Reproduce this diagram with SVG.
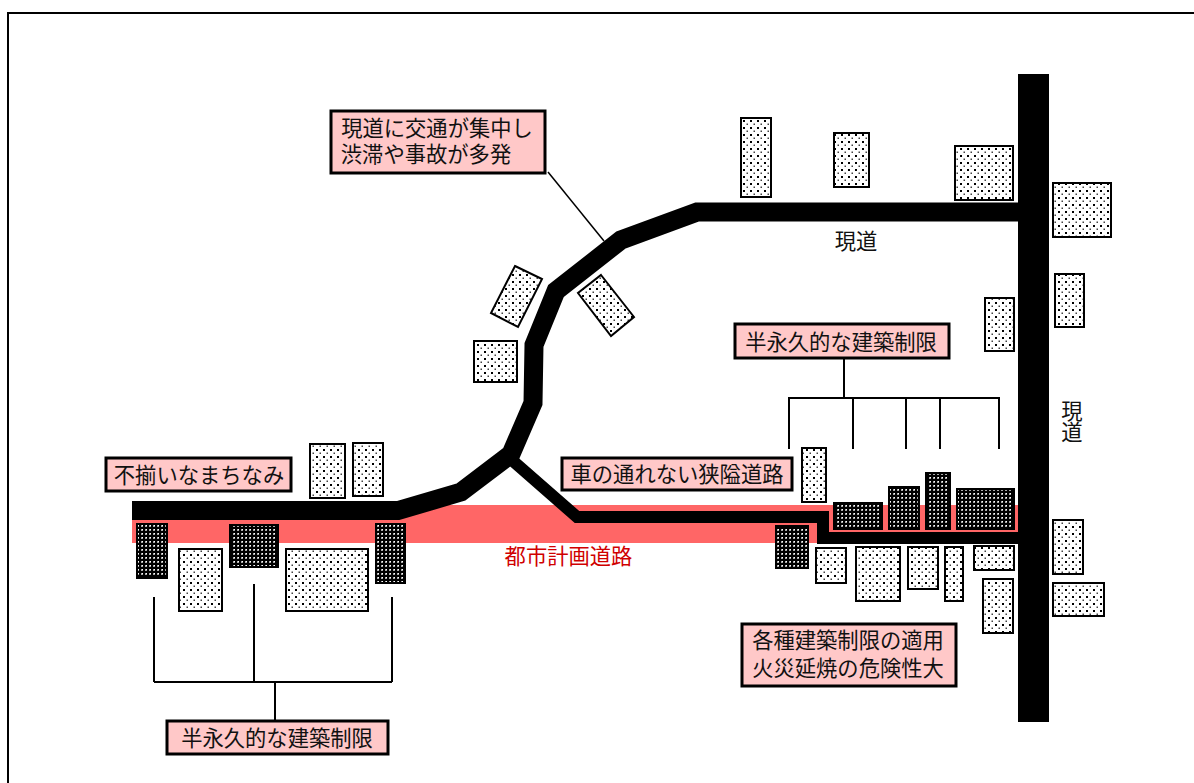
<svg xmlns="http://www.w3.org/2000/svg" width="1194" height="783" viewBox="0 0 1194 783">
<style>
text{font-family:"Noto Sans CJK JP","Noto Sans",sans-serif;font-size:21.3px;fill:#111;text-anchor:middle}
.l{fill:url(#lp);stroke:#000;stroke-width:2}
.d{fill:url(#dp);stroke:#000;stroke-width:2}
.b{fill:#ffc8c8;stroke:#000;stroke-width:3}
.r{fill:none;stroke:#000;stroke-linejoin:miter}
.t{fill:none;stroke:#000;stroke-width:2}
</style>
<defs>
<pattern id="lp" width="7" height="7" patternUnits="userSpaceOnUse"><rect width="7" height="7" fill="#fff"/><rect x="1" y="1" width="2" height="2" fill="#000"/><rect x="4.500" y="4.500" width="1.500" height="1.500" fill="#444"/></pattern>
<pattern id="dp" width="4" height="4" patternUnits="userSpaceOnUse"><rect width="4" height="4" fill="#000"/><rect x="1" y="1" width="2" height="2" fill="#aaa"/><rect x="2" y="1" width="1" height="1" fill="#fff"/></pattern>
</defs>
<rect width="1194" height="783" fill="#fff"/>
<path d="M8 783V13H1194" fill="none" stroke="#000" stroke-width="2"/>
<g id="planned-road"><path d="M132 505H1018V532H829V544H818V543H132Z" fill="#ff6666"/><text x="568.500" y="564" style="fill:#d00000">都市計画道路</text></g>
<g id="connectors">
<path class="r" stroke-width="19" d="M132 510.500H398L461 492L511 454L533 403L534 345L556 291L621 240L697 212H1018"/>
<path class="r" stroke-width="12" d="M513 461L577 517H823V538H1018"/>
<rect x="1018" y="74" width="31" height="648" fill="#000"/>
<path class="t" style="stroke-width:1.500" d="M548 172L604 241"/>
<path class="t" d="M844 358V398M789 449V398H999V449M853 398V449M906 398V449M940 398V449M154 597V682M254 584V682M392 597V682M154 682H392M275 682V721"/>
</g>
<g id="buildings">
<rect class="l" x="741" y="118" width="30" height="79"/><rect class="l" x="834" y="133" width="35" height="54"/><rect class="l" x="955" y="146" width="58" height="54"/><rect class="l" x="1053" y="183" width="58" height="54"/><rect class="l" x="1055" y="274" width="29" height="53"/><rect class="l" x="985" y="298" width="29" height="53"/><rect class="l" x="474" y="341" width="43" height="41"/>
<polygon class="l" points="515,266 542,279 518,327 491,313"/><polygon class="l" points="601,275 634,317 611,336 578,293"/>
<rect class="l" x="310" y="444" width="35" height="54"/><rect class="l" x="353" y="443" width="30" height="53"/><rect class="l" x="179" y="549" width="43" height="62"/><rect class="l" x="286" y="549" width="82" height="62"/>
<rect class="l" x="802" y="448" width="24" height="54"/><rect class="l" x="816" y="548" width="30" height="35"/><rect class="l" x="856" y="547" width="44" height="54"/><rect class="l" x="908" y="547" width="30" height="42"/><rect class="l" x="945" y="547" width="18" height="54"/><rect class="l" x="974" y="546" width="40" height="24"/><rect class="l" x="983" y="579" width="30" height="54"/><rect class="l" x="1053" y="520" width="30" height="54"/><rect class="l" x="1053" y="583" width="51" height="33"/>
<rect class="d" x="137" y="524" width="30" height="54"/><rect class="d" x="230" y="525" width="48" height="42"/><rect class="d" x="376" y="524" width="29" height="59"/><rect class="d" x="776" y="526" width="32" height="42"/><rect class="d" x="834" y="503" width="48" height="26"/><rect class="d" x="889" y="487" width="30" height="42"/><rect class="d" x="926" y="473" width="24" height="56"/><rect class="d" x="957" y="489" width="57" height="40"/>
</g>
<g id="road-labels"><text x="856" y="249">現道</text><text x="1072" y="419">現</text><text x="1072" y="440">道</text></g>
<g id="label-congestion"><rect class="b" x="331" y="111" width="214" height="62"/><text x="437" y="136">現道に交通が集中し</text><text x="426" y="162">渋滞や事故が多発</text></g>
<g id="label-uneven"><rect class="b" x="106" y="458" width="185" height="33"/><text x="199" y="483">不揃いなまちなみ</text></g>
<g id="label-permanent-right"><rect class="b" x="735" y="324" width="214" height="34"/><text x="841" y="350">半永久的な建築制限</text></g>
<g id="label-narrow"><rect class="b" x="562" y="458" width="230" height="32"/><text x="677" y="482">車の通れない狭隘道路</text></g>
<g id="label-fire"><rect class="b" x="742" y="624" width="214" height="62"/><text x="848" y="648">各種建築制限の適用</text><text x="848" y="676">火災延焼の危険性大</text></g>
<g id="label-permanent-left"><rect class="b" x="167" y="721" width="221" height="33"/><text x="277" y="746">半永久的な建築制限</text></g>
</svg>
